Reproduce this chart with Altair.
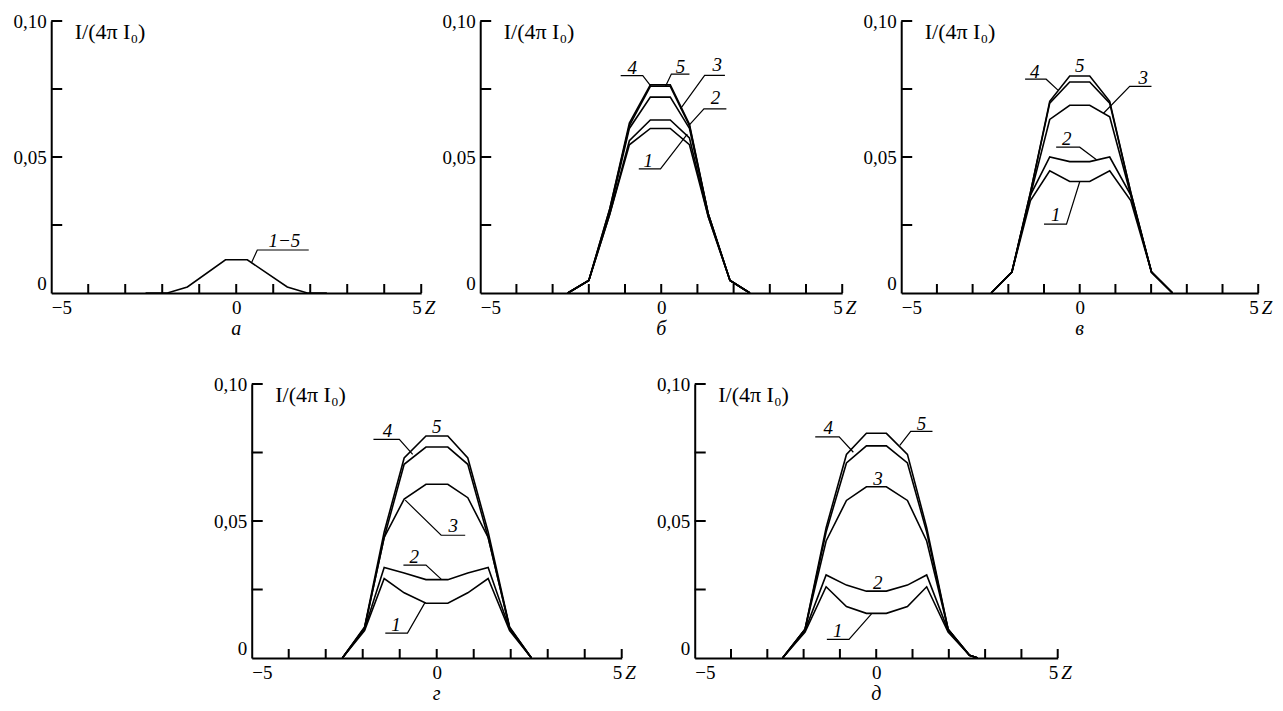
import altair as alt
import pandas as pd

FONT = "Liberation Serif"

# ---------------- data ----------------
X_TICKS = [-4, -3, -2, -1, 0, 1, 2, 3, 4, 5]
Y_TICKS = [0.025, 0.05, 0.075, 0.10]

# panel а : all five curves coincide
A_Z = [-2.45, -1.86, -1.32, -0.29, 0.30, 1.38, 1.92, 2.45]
A_15 = [0, 0, 0.0022, 0.0122, 0.0122, 0.0022, 0, 0]

# panel б
B_Z = [-2.58, -2.0, -1.42, -0.88, -0.30, 0.25, 0.78, 1.30, 1.90, 2.45]
B_5 = [0, 0.0046, 0.031, 0.0625, 0.0765, 0.0765, 0.0620, 0.029, 0.0046, 0]
B_4 = [0, 0.0046, 0.031, 0.0615, 0.0760, 0.0760, 0.0615, 0.029, 0.0046, 0]
B_3 = [0, 0.0046, 0.030, 0.0605, 0.0720, 0.0720, 0.0605, 0.029, 0.0046, 0]
B_2 = [0, 0.0046, 0.029, 0.0560, 0.0636, 0.0636, 0.0570, 0.028, 0.0046, 0]
B_1 = [0, 0.0046, 0.029, 0.0545, 0.0605, 0.0605, 0.0545, 0.028, 0.0046, 0]

# panel в
C_Z = [-2.48, -1.90, -1.38, -0.84, -0.28, 0.28, 0.84, 1.43, 2.01, 2.60]
C_5 = [0, 0.0077, 0.037, 0.0705, 0.0798, 0.0798, 0.0705, 0.037, 0.0077, 0]
C_4 = [0, 0.0077, 0.037, 0.0698, 0.0776, 0.0776, 0.0698, 0.037, 0.0077, 0]
C_3 = [0, 0.0077, 0.036, 0.0638, 0.0690, 0.0690, 0.0648, 0.036, 0.0077, 0]
C_2 = [0, 0.0077, 0.036, 0.0500, 0.0483, 0.0483, 0.0500, 0.036, 0.0077, 0]
C_1 = [0, 0.0077, 0.034, 0.0449, 0.0410, 0.0410, 0.0449, 0.034, 0.0077, 0]

# panel г
D_Z = [-2.55, -1.95, -1.42, -0.88, -0.29, 0.30, 0.84, 1.39, 1.97, 2.56]
D_5 = [0, 0.0113, 0.046, 0.0730, 0.0810, 0.0810, 0.0730, 0.046, 0.0113, 0]
D_4 = [0, 0.0110, 0.044, 0.0707, 0.0770, 0.0770, 0.0707, 0.044, 0.0110, 0]
D_3 = [0, 0.0110, 0.044, 0.0580, 0.0634, 0.0634, 0.0585, 0.044, 0.0110, 0]
D_2 = [0, 0.0105, 0.033, 0.0310, 0.0286, 0.0286, 0.0310, 0.033, 0.0105, 0]
D_1 = [0, 0.0100, 0.029, 0.0238, 0.0200, 0.0200, 0.0238, 0.029, 0.0100, 0]

# panel д
E_Z = [-2.58, -1.96, -1.38, -0.82, -0.27, 0.28, 0.86, 1.39, 1.98, 2.57, 2.80]
E_5 = [0, 0.0105, 0.0476, 0.0743, 0.0820, 0.0820, 0.0743, 0.0476, 0.0105, 0.001, 0]
E_4 = [0, 0.0105, 0.0460, 0.0712, 0.0774, 0.0774, 0.0712, 0.0460, 0.0105, 0.001, 0]
E_3 = [0, 0.0105, 0.0427, 0.0575, 0.0625, 0.0625, 0.0575, 0.0427, 0.0105, 0.001, 0]
E_2 = [0, 0.0100, 0.0303, 0.0266, 0.0244, 0.0244, 0.0266, 0.0303, 0.0100, 0.001, 0]
E_1 = [0, 0.0095, 0.0260, 0.0188, 0.0163, 0.0163, 0.0188, 0.0260, 0.0095, 0.001, 0]

# curve labels: (text, text_z, text_v, leader points [(z, v), ...])
A_LABELS = [("1\u22125", 1.30, 0.0192, [(0.41, 0.011), (0.57, 0.0158), (1.96, 0.0158)])]
B_LABELS = [
    ("4", -0.80, 0.0826, [(-0.28, 0.076), (-0.51, 0.0799), (-1.12, 0.0799)]),
    ("5", 0.53, 0.0832, [(0.12, 0.076), (0.28, 0.0805), (0.78, 0.0805)]),
    ("3", 1.55, 0.0838, [(0.53, 0.0677), (1.20, 0.080), (1.76, 0.080)]),
    ("2", 1.50, 0.0717, [(0.76, 0.0615), (1.18, 0.0677), (1.80, 0.0677)]),
    ("1", -0.36, 0.0487, [(0.72, 0.0584), (-0.02, 0.0456), (-0.62, 0.0456)]),
]
C_LABELS = [
    ("4", -1.26, 0.0814, [(-0.61, 0.0746), (-0.94, 0.0786), (-1.53, 0.0786)]),
    ("5", 0.0, 0.0835, []),
    ("3", 1.78, 0.0792, [(0.66, 0.066), (1.40, 0.076), (2.01, 0.076)]),
    ("2", -0.36, 0.0565, [(0.47, 0.049), (0.0, 0.0536), (-0.66, 0.0536)]),
    ("1", -0.67, 0.0287, [(0.0, 0.0409), (-0.37, 0.0253), (-1.0, 0.0253)]),
]
D_LABELS = [
    ("4", -1.33, 0.0828, [(-0.65, 0.0743), (-1.01, 0.0798), (-1.71, 0.0798)]),
    ("5", 0.0, 0.0842, []),
    ("3", 0.45, 0.0480, [(-0.85, 0.0576), (0.12, 0.0448), (0.77, 0.0448)]),
    ("2", -0.61, 0.0370, [(0.12, 0.0288), (-0.29, 0.0339), (-0.90, 0.0339)]),
    ("1", -1.10, 0.0119, [(-0.31, 0.0204), (-0.79, 0.0091), (-1.39, 0.0091)]),
]
E_LABELS = [
    ("4", -1.32, 0.0838, [(-0.63, 0.0751), (-1.02, 0.0807), (-1.68, 0.0807)]),
    ("5", 1.25, 0.0854, [(0.65, 0.0776), (0.95, 0.0827), (1.55, 0.0827)]),
    ("3", 0.05, 0.0652, []),
    ("2", 0.04, 0.0275, []),
    ("1", -1.06, 0.0099, [(-0.13, 0.0161), (-0.75, 0.0068), (-1.36, 0.0068)]),
]

Y_TITLE = "I/(4\u03c0 I\u2080)"


def panel(z, curves, labels, w, h, sub):
    xs = alt.Scale(domain=[-5, 5], nice=False, zero=False)
    ys = alt.Scale(domain=[0, 0.10], nice=False, zero=False)

    rows = []
    for name, vals in curves.items():
        for i, (zz, vv) in enumerate(zip(z, vals)):
            rows.append({"z": zz, "v": vv, "c": name, "o": i})
    cdf = pd.DataFrame(rows)

    lrows, trows = [], []
    for k, (txt, tz, tv, pts) in enumerate(labels):
        trows.append({"z": tz, "v": tv, "t": txt})
        for j, (pz, pv) in enumerate(pts):
            lrows.append({"z": pz, "v": pv, "id": k, "o": j})
    ldf = pd.DataFrame(lrows if lrows else [{"z": 0, "v": -1, "id": 0, "o": 0}])
    tdf = pd.DataFrame(trows)

    xaxis = alt.Axis(
        values=[-5, 0, 5], labelExpr="datum.value == -5 ? '\u22125' : datum.label",
        ticks=False, grid=False, domainColor="black", domainWidth=2,
        labelFont=FONT, labelFontSize=19, labelColor="black", labelPadding=5,
        labelFlush=True, labelOverlap=False,
        title="Z", titleFont=FONT, titleFontSize=19, titleFontStyle="italic",
        titleFontWeight="normal", titleColor="black", titleX=w + 3, titleY=5,
        titleAlign="left", titleBaseline="top",
    )
    yaxis = alt.Axis(
        values=[0, 0.05, 0.1],
        labelExpr="datum.value == 0 ? '0' : replace(format(datum.value, '.2f'), '.', ',')",
        labelBaseline={"condition": {"test": "datum.value == 0", "value": "bottom"}, "value": "middle"},
        ticks=False, grid=False, domainColor="black", domainWidth=2,
        labelFont=FONT, labelFontSize=19, labelColor="black", labelPadding=5,
        title=Y_TITLE, titleFont=FONT, titleFontSize=22, titleFontWeight="normal",
        titleColor="black", titleAngle=0, titleAlign="left", titleBaseline="alphabetic",
        titleX=23, titleY=17,
    )

    X = alt.X("z:Q", scale=xs, axis=xaxis)
    Y = alt.Y("v:Q", scale=ys, axis=yaxis)

    lines = alt.Chart(cdf).mark_line(color="black", strokeWidth=1.6).encode(
        x=X, y=Y, detail="c:N", order="o:Q",
    )
    leaders = alt.Chart(ldf).mark_line(color="black", strokeWidth=1.2).encode(
        x=X, y=Y, detail="id:N", order="o:Q",
    )
    texts = alt.Chart(tdf).mark_text(
        font=FONT, fontSize=19, fontStyle="italic", color="black",
        align="center", baseline="middle",
    ).encode(x=X, y=Y, text="t:N")
    yt = alt.Chart(pd.DataFrame({"v": Y_TICKS})).mark_rule(color="black", strokeWidth=2).encode(
        y=Y, x=alt.value(0), x2=alt.value(11),
    )
    xt = alt.Chart(pd.DataFrame({"z": X_TICKS})).mark_rule(color="black", strokeWidth=2).encode(
        x=X, y=alt.value(h), y2=alt.value(h - 9),
    )
    return alt.layer(lines, leaders, texts, yt, xt).properties(
        width=w, height=h,
        title=alt.TitleParams(
            sub, orient="bottom", font=FONT, fontSize=20, fontStyle="italic",
            fontWeight="normal", color="black", anchor="middle", frame="group", offset=2,
        ),
    )


pa = panel(A_Z, {"1-5": A_15}, A_LABELS, 370, 272, "а")
pb = panel(B_Z, {"5": B_5, "4": B_4, "3": B_3, "2": B_2, "1": B_1}, B_LABELS, 362, 272, "б")
pc = panel(C_Z, {"5": C_5, "4": C_4, "3": C_3, "2": C_2, "1": C_1}, C_LABELS, 357, 272, "в")
pd_ = panel(D_Z, {"5": D_5, "4": D_4, "3": D_3, "2": D_2, "1": D_1}, D_LABELS, 370, 274, "г")
pe = panel(E_Z, {"5": E_5, "4": E_4, "3": E_3, "2": E_2, "1": E_1}, E_LABELS, 363, 274, "д")

top = alt.hconcat(pa, pb, pc, spacing=59, bounds="flush")
bottom = alt.hconcat(pd_, pe, spacing=73, bounds="flush")
chart = alt.vconcat(top, bottom, spacing=36, center=True).configure_view(
    stroke=None
).properties(background="white", padding={"left": 12, "top": 12, "right": 5, "bottom": 5})

chart.save("out.html", embed_options={"renderer": "svg", "actions": False})
